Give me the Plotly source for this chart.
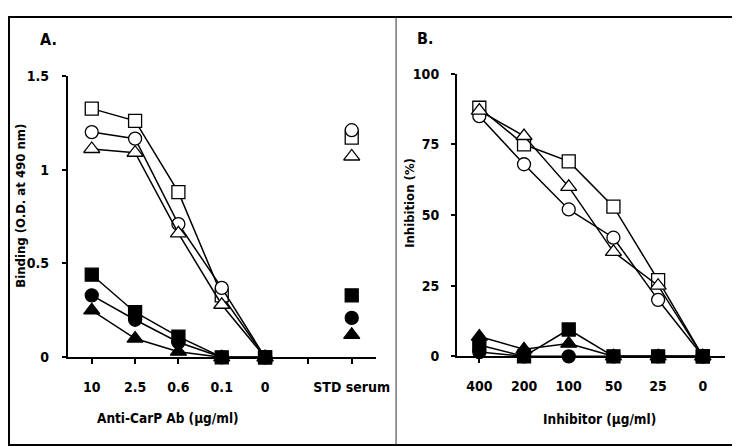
import plotly.graph_objects as go

W, H = 740, 446

# ---------------- Data ----------------
# Panel A
a_categories = ["10", "2.5", "0.6", "0.1", "0", "", "STD serum"]
a_open_square = [1.325, 1.26, 0.88, 0.33, 0.0, None, 1.17]
a_open_circle = [1.20, 1.165, 0.71, 0.37, 0.0, None, 1.21]
a_open_triangle = [1.11, 1.09, 0.66, 0.28, 0.0, None, 1.07]
a_filled_circle = [0.33, 0.20, 0.08, 0.0, 0.0, None, 0.21]
a_filled_triangle = [0.25, 0.10, 0.03, 0.0, 0.0, None, 0.12]
a_filled_square = [0.44, 0.24, 0.11, 0.0, 0.0, None, 0.33]
a_yticks = [0, 0.5, 1, 1.5]
a_yticklabels = ["0", "0.5", "1", "1.5"]

# Panel B
b_categories = ["400", "200", "100", "50", "25", "0"]
b_open_square = [88, 75, 69, 53, 27, 0]
b_open_circle = [85, 68, 52, 42, 20, 0]
b_open_triangle = [87, 78, 60, 37, 25, 0]
b_filled_circle = [1.5, 0, 0, 0, 0, 0]
b_filled_triangle = [7, 2.5, 4.5, 0, 0, 0]
b_filled_square = [4, 0, 9.5, 0, 0, 0]
b_yticks = [0, 25, 50, 75, 100]
b_yticklabels = ["0", "25", "50", "75", "100"]

FONT = "DejaVu Sans Condensed, Liberation Sans Narrow, Arial Narrow, Liberation Sans, sans-serif"

fig = go.Figure()

def px(x):
    return x / W

def py(y):
    return 1 - y / H

styles = [
    ("open_square", "square", "white", 13),
    ("open_circle", "circle", "white", 13),
    ("open_triangle", "triangle-up", "white", 14),
    ("filled_circle", "circle", "black", 13),
    ("filled_triangle", "triangle-up", "black", 14),
    ("filled_square", "square", "black", 13),
]

a_series = {
    "open_square": a_open_square, "open_circle": a_open_circle,
    "open_triangle": a_open_triangle, "filled_circle": a_filled_circle,
    "filled_triangle": a_filled_triangle, "filled_square": a_filled_square,
}
b_series = {
    "open_square": b_open_square, "open_circle": b_open_circle,
    "open_triangle": b_open_triangle, "filled_circle": b_filled_circle,
    "filled_triangle": b_filled_triangle, "filled_square": b_filled_square,
}

for name, sym, fill, size in styles:
    fig.add_trace(go.Scatter(
        x=list(range(len(a_categories))), y=a_series[name],
        mode="lines+markers", connectgaps=False,
        line=dict(color="black", width=1.5),
        marker=dict(symbol=sym, size=size, color=fill, line=dict(color="black", width=1.3)),
        xaxis="x", yaxis="y", showlegend=False, cliponaxis=False,
    ))
for name, sym, fill, size in styles:
    fig.add_trace(go.Scatter(
        x=list(range(len(b_categories))), y=b_series[name],
        mode="lines+markers",
        line=dict(color="black", width=1.5),
        marker=dict(symbol=sym, size=size, color=fill, line=dict(color="black", width=1.3)),
        xaxis="x2", yaxis="y2", showlegend=False, cliponaxis=False,
    ))

axis_common = dict(
    showgrid=False, zeroline=False, showline=True, linecolor="black", linewidth=2,
    ticks="outside", tickcolor="black", tickwidth=1.5,
    tickfont=dict(family=FONT, size=14, color="black", weight="bold"),
)

fig.update_layout(
    width=W, height=H,
    margin=dict(l=0, r=0, t=0, b=0),
    paper_bgcolor="white", plot_bgcolor="white",
    font=dict(family=FONT, color="black"),
    xaxis=dict(
        **axis_common, domain=[px(61), px(375)], range=[-0.55, 6.57],
        tickvals=list(range(len(a_categories))), ticktext=a_categories,
        ticklen=5, ticklabelstandoff=11, anchor="y",
    ),
    yaxis=dict(
        **axis_common, domain=[py(354), py(62)], range=[0, 1.5],
        tickvals=a_yticks, ticktext=a_yticklabels, ticklen=4,
        ticklabelstandoff=10, anchor="x",
    ),
    xaxis2=dict(
        **axis_common, domain=[px(457), px(730)], range=[-0.5, 5.5],
        tickvals=list(range(len(b_categories))), ticktext=b_categories,
        ticklen=5, ticklabelstandoff=11, anchor="y2",
    ),
    yaxis2=dict(
        **axis_common, domain=[py(353), py(60)], range=[0, 100],
        tickvals=b_yticks, ticktext=b_yticklabels, ticklen=4,
        ticklabelstandoff=9, anchor="x2",
    ),
)

def ann(text, x, y, size, angle=0):
    fig.add_annotation(
        text=text, x=px(x), y=py(y), xref="paper", yref="paper",
        showarrow=False, textangle=angle, xanchor="center", yanchor="middle",
        font=dict(family=FONT, size=size, color="black", weight="bold"),
    )

ann("A.", 41, 24, 16)
ann("B.", 424, 23, 16)
ann("Anti-CarP Ab (µg/ml)", 163, 417, 13.5)
ann("Inhibitor (µg/ml)", 602, 418, 13.5)
ann("Binding (O.D. at 490 nm)", 13, 197, 13, -90)
ann("Inhibition (%)", 408, 194, 13, -90)

# Frame and divider
fig.add_shape(type="rect", xref="paper", yref="paper",
              x0=px(1), x1=px(739), y0=py(445), y1=py(1),
              line=dict(color="black", width=2), fillcolor="rgba(0,0,0,0)")
fig.add_shape(type="line", xref="paper", yref="paper",
              x0=px(395), x1=px(395), y0=py(445), y1=py(1),
              line=dict(color="#333333", width=1))

fig.write_html("out.html", config={"displayModeBar": False})
